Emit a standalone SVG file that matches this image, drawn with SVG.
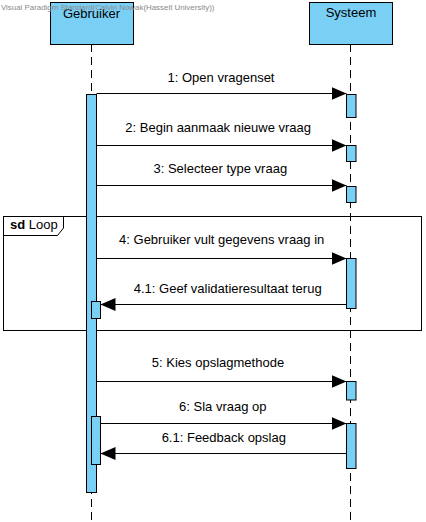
<svg xmlns="http://www.w3.org/2000/svg" width="426" height="522" viewBox="0 0 426 522">
<style>
text{font-family:"Liberation Sans",Arial,sans-serif;fill:#000}
.lbl{font-size:13px;text-anchor:middle}
.head{fill:#7ACFF5;stroke:#000;stroke-width:1}
.act{fill:#7ACFF5;stroke:#000;stroke-width:1}
.life{stroke:#000;stroke-width:1;stroke-dasharray:8,5;fill:none}
.msg{stroke:#000;stroke-width:1;fill:none}
.wm{font-size:7.9px;fill:#8a8a8a}
</style>
<defs>
<marker id="ah" markerWidth="15" markerHeight="13" refX="15" refY="6.5" orient="auto" markerUnits="userSpaceOnUse">
<path d="M0,0 L15,6.5 L0,13 Z" fill="#000"/>
</marker>
</defs>
<rect width="426" height="522" fill="#fff"/>
<g id="frame-loop">
<rect x="3.5" y="216.5" width="418" height="114" fill="none" stroke="#000"/>
<path d="M3.5,235.5 H57.5 L63.5,228 V216.5" fill="none" stroke="#000"/>
<text x="10" y="228.5" font-size="13px"><tspan font-weight="bold">sd</tspan> Loop</text>
</g>
<g id="lifelines">
<line class="life" x1="91.5" y1="44" x2="91.5" y2="522"/>
<line class="life" x1="350.5" y1="44" x2="350.5" y2="522"/>
</g>
<g id="gebruiker">
<rect class="head" x="50.5" y="2.5" width="83" height="42"/>
<text x="91.5" y="17.5" font-size="13px" text-anchor="middle">Gebruiker</text>
<rect class="act" x="86.5" y="94.5" width="10" height="398"/>
<rect class="act" x="91.5" y="301.5" width="9" height="17"/>
<rect class="act" x="91.5" y="416.5" width="9" height="48"/>
</g>
<g id="systeem">
<rect class="head" x="309.5" y="2.5" width="83" height="42"/>
<text x="351" y="17" font-size="13px" text-anchor="middle">Systeem</text>
<rect class="act" x="346.5" y="94.5" width="9.5" height="23"/>
<rect class="act" x="346.5" y="145.5" width="9.5" height="16"/>
<rect class="act" x="346.5" y="186.5" width="9.5" height="16"/>
<rect class="act" x="346.5" y="258.5" width="9.5" height="50"/>
<rect class="act" x="346.5" y="381.5" width="9.5" height="18.5"/>
<rect class="act" x="346.5" y="423.5" width="9.5" height="45"/>
</g>
<g id="connectors">
<line class="msg" x1="96.5" y1="93.5" x2="346.5" y2="93.5" marker-end="url(#ah)"/>
<line class="msg" x1="96.5" y1="145.5" x2="346.5" y2="145.5" marker-end="url(#ah)"/>
<line class="msg" x1="96.5" y1="185.5" x2="346.5" y2="185.5" marker-end="url(#ah)"/>
<line class="msg" x1="96.5" y1="258.5" x2="346.5" y2="258.5" marker-end="url(#ah)"/>
<line class="msg" x1="346.5" y1="304.5" x2="100.5" y2="304.5" marker-end="url(#ah)"/>
<line class="msg" x1="96.5" y1="381.5" x2="346.5" y2="381.5" marker-end="url(#ah)"/>
<line class="msg" x1="100.5" y1="423.5" x2="346.5" y2="423.5" marker-end="url(#ah)"/>
<line class="msg" x1="346.5" y1="453.5" x2="100.5" y2="453.5" marker-end="url(#ah)"/>
</g>
<g id="labels">
<text class="lbl" x="221" y="81.5">1: Open vragenset</text>
<text class="lbl" x="218.2" y="131.7">2: Begin aanmaak nieuwe vraag</text>
<text class="lbl" x="220.3" y="172.7">3: Selecteer type vraag</text>
<text class="lbl" x="221.7" y="244.3">4: Gebruiker vult gegevens vraag in</text>
<text class="lbl" x="227.7" y="293.3">4.1: Geef validatieresultaat terug</text>
<text class="lbl" x="218" y="367.3">5: Kies opslagmethode</text>
<text class="lbl" x="222.8" y="411">6: Sla vraag op</text>
<text class="lbl" x="223.8" y="441.7">6.1: Feedback opslag</text>
</g>
<text class="wm" x="1" y="10">Visual Paradigm Standard(Calvin Nowak(Hasselt University))</text>
</svg>
